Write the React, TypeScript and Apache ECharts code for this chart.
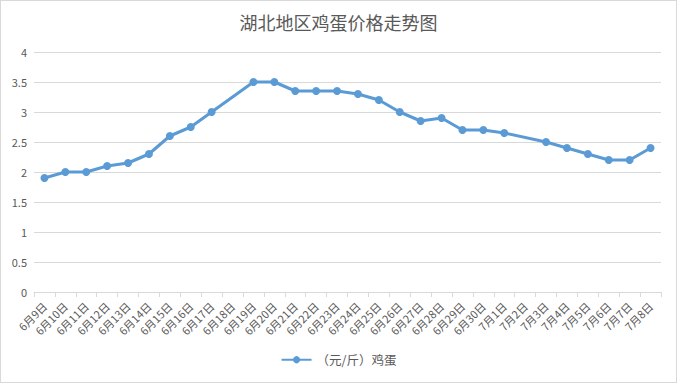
import React, { useEffect, useRef } from "react";
import * as echarts from "echarts";

const categories = [
  "6月9日", "6月10日", "6月11日", "6月12日", "6月13日", "6月14日", "6月15日", "6月16日",
  "6月17日", "6月18日", "6月19日", "6月20日", "6月21日", "6月22日", "6月23日", "6月24日",
  "6月25日", "6月26日", "6月27日", "6月28日", "6月29日", "6月30日", "7月1日", "7月2日",
  "7月3日", "7月4日", "7月5日", "7月6日", "7月7日", "7月8日",
];
const eggPrices: (number | null)[] = [
  1.9, 2.0, 2.0, 2.1, 2.15, 2.3, 2.6, 2.75,
  3.0, null, 3.5, 3.5, 3.35, 3.35, 3.35, 3.3,
  3.2, 3.0, 2.85, 2.9, 2.7, 2.7, 2.65, null,
  2.5, 2.4, 2.3, 2.2, 2.2, 2.4,
];
const seriesName = "（元/斤）鸡蛋";
const title = "湖北地区鸡蛋价格走势图";

const FONT = "'Noto Sans CJK SC', 'Noto Sans', sans-serif";

export default function App() {
  const ref = useRef<HTMLDivElement>(null);
  useEffect(() => {
    if (!ref.current) return;
    const chart = echarts.init(ref.current, undefined, { renderer: "svg" });
    chart.setOption({
      animation: false,
      backgroundColor: "#ffffff",
      textStyle: { fontFamily: FONT },
      title: {
        text: title,
        left: "center",
        top: 7,
        textStyle: { fontSize: 18, fontWeight: "normal", color: "#595959", fontFamily: FONT },
      },
      legend: {
        bottom: 11,
        left: "center",
        itemWidth: 30,
        itemHeight: 9,
        itemGap: 10,
        textStyle: { fontSize: 12.5, color: "#595959", fontFamily: FONT },
        data: [seriesName],
      },
      grid: { left: 33, right: 15, top: 51, bottom: 90, containLabel: false },
      xAxis: {
        type: "category",
        data: categories,
        boundaryGap: true,
        axisLine: { show: true, lineStyle: { color: "#d9d9d9", width: 1 } },
        axisTick: { show: true, alignWithLabel: false, length: 5, lineStyle: { color: "#d9d9d9" } },
        axisLabel: { rotate: 45, interval: 0, fontSize: 11, color: "#595959", fontFamily: FONT, margin: 12 },
      },
      yAxis: {
        type: "value",
        min: 0,
        max: 4,
        interval: 0.5,
        axisLine: { show: false },
        axisTick: { show: false },
        axisLabel: { fontSize: 11, color: "#595959", fontFamily: FONT, margin: 7 },
        splitLine: { lineStyle: { color: "#d9d9d9", width: 1 } },
      },
      series: [
        {
          name: seriesName,
          type: "line",
          data: eggPrices,
          connectNulls: true,
          symbol: "circle",
          symbolSize: 8,
          lineStyle: { color: "#5b9bd5", width: 3 },
          itemStyle: { color: "#5b9bd5" },
        },
      ],
    });
    return () => chart.dispose();
  }, []);
  return (
    <div
      style={{
        position: "fixed",
        left: 0,
        top: 0,
        width: 677,
        height: 383,
        boxSizing: "border-box",
        border: "1px solid #d9d9d9",
        background: "#fff",
      }}
    >
      <div ref={ref} style={{ width: 675, height: 381 }} />
    </div>
  );
}
